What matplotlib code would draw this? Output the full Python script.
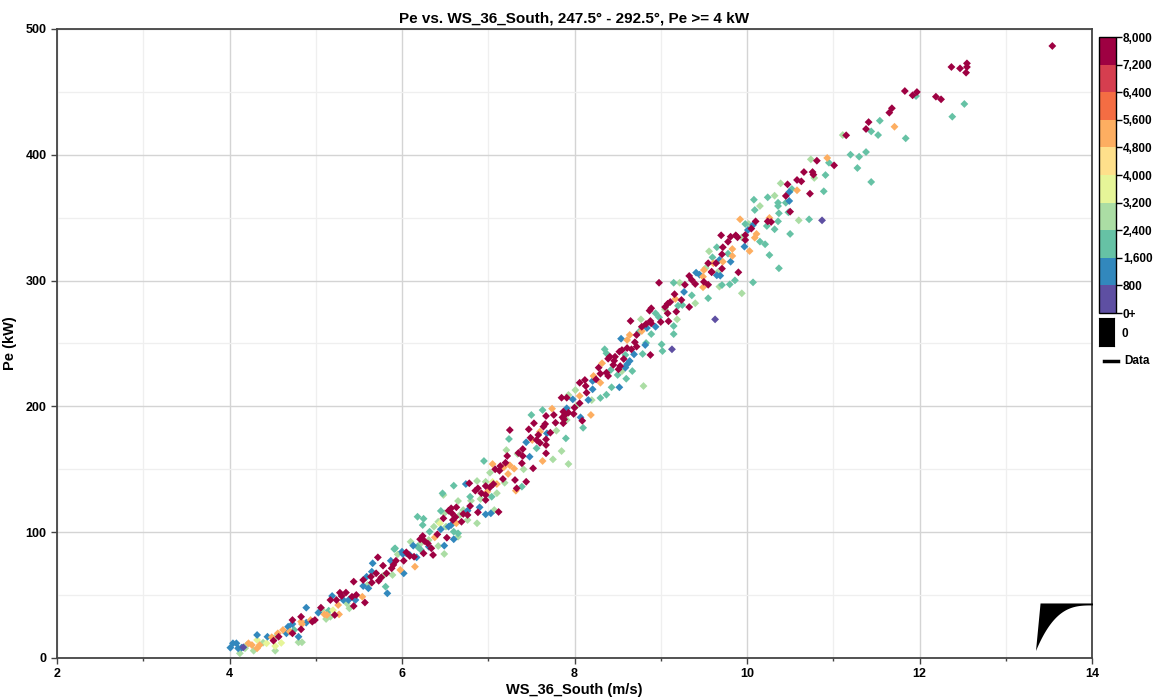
import matplotlib
matplotlib.use("Agg")
import matplotlib.pyplot as plt
import numpy as np
from matplotlib.colors import ListedColormap, BoundaryNorm
from matplotlib.cm import ScalarMappable
from matplotlib.lines import Line2D
from matplotlib.ticker import MultipleLocator

plt.rcParams['font.family'] = ['Liberation Sans', 'DejaVu Sans']
plt.rcParams['font.weight'] = 'bold'

# points, grouped by colour bin (WS m/s, Pe kW)
pts_7600 = [(13.54, 486.5), (12.37, 469.8), (12.47, 468.7), (12.55, 472.7), (12.55, 469.8), (12.54, 465.3),
            (11.83, 450.7), (11.92, 447.3), (11.97, 449.9), (12.19, 446.2), (12.25, 444.1), (11.68, 437),
            (11.65, 433.5), (11.41, 426), (11.38, 420.5), (11.15, 415.5), (10.81, 395.3), (11.01, 391.6),
            (10.66, 386.3), (10.76, 386.3), (10.77, 384.2), (10.58, 380), (10.63, 378.9), (10.47, 376.5),
            (10.73, 369.1), (10.45, 367.3), (10.50, 354.8), (10.10, 347.1), (10.24, 347.1), (10.28, 346.6),
            (10.05, 341.3), (9.98, 336.2), (9.87, 336), (9.89, 334.4), (9.70, 336), (9.81, 334.9), (9.98, 332.3),
            (9.78, 330.9), (9.72, 326.5), (9.71, 320.9), (9.55, 313.8), (9.71, 309.5), (9.59, 306.6), (9.90, 306.6),
            (9.55, 296.7), (8.98, 298.3), (9.28, 296.7), (9.33, 303.7), (9.36, 300.5), (9.40, 297.3), (9.59, 307.1),
            (9.64, 313.8), (9.16, 289.2), (9.08, 281.6), (9.11, 283), (9.24, 284.6), (9.33, 279), (9.18, 275.3),
            (9.00, 267.1), (9.08, 274), (9.09, 267.7), (8.89, 278), (8.87, 276.1), (8.88, 267.9), (8.83, 265.5),
            (8.89, 266), (8.65, 267.9), (8.78, 263.3), (8.72, 256.8), (8.72, 247.5), (8.66, 245.4), (8.61, 246.4),
            (8.55, 244.8), (8.52, 243.5), (8.88, 240.9), (8.47, 239.5), (8.41, 239.5), (8.39, 237.9), (8.57, 237.7),
            (8.46, 236.3), (8.53, 232.1), (8.51, 229.5), (8.28, 230.8), (8.37, 226.8), (8.39, 224.2), (8.25, 221.5),
            (8.12, 221), (8.06, 218.8), (8.13, 216.2), (8.14, 210.9), (7.85, 206.9), (7.91, 206.9), (8.06, 202.5),
            (7.87, 195.8), (7.93, 195), (7.99, 194), (7.89, 193.2), (7.88, 189.7), (8.09, 188.6), (7.87, 186.6),
            (7.76, 193.2), (7.86, 191.3), (7.67, 192.4), (7.53, 186.6), (7.64, 183.9), (7.66, 186), (7.47, 181.8),
            (7.58, 177.3), (7.72, 179.1), (7.56, 173.3), (7.67, 173.8), (7.49, 175.1), (7.25, 181.2), (7.67, 169.3),
            (7.40, 166.1), (7.67, 162.7), (7.22, 160.6), (7.40, 160.6), (7.20, 155.2), (7.14, 152.6), (7.39, 154.8),
            (7.52, 150.8), (7.08, 150), (7.13, 148.9), (7.17, 142.3), (7.31, 141.5), (7.44, 140.1), (7.33, 134.9),
            (7.06, 138.3), (6.97, 136.7), (7.02, 135.7), (6.78, 138.9), (6.88, 134.9), (6.85, 133), (6.97, 129.6),
            (6.97, 125.6), (6.79, 120.8), (6.88, 115.8), (7.12, 116.1), (6.57, 119), (6.63, 119.8), (6.54, 117.1),
            (6.58, 115), (6.71, 114.5), (6.76, 113.7), (6.48, 111), (6.59, 109.7), (6.69, 108.3), (6.41, 98.3),
            (6.52, 95.6), (6.24, 97), (6.21, 94.4), (6.26, 93), (6.34, 87.2), (6.25, 83.2), (6.36, 81.9),
            (6.05, 84), (6.09, 81.1), (6.14, 80.5), (5.93, 77.3), (6.02, 77.3), (5.88, 71.3), (5.72, 80),
            (5.78, 73.4), (5.82, 67.3), (5.70, 67.3), (5.64, 64.6), (5.55, 62), (5.76, 64.1), (5.73, 61.4),
            (5.65, 59.9), (5.44, 60.7), (5.47, 50.1), (5.42, 48.7), (5.57, 44.1), (5.28, 51.9), (5.30, 49.3),
            (5.17, 46.1), (5.24, 46.1), (5.44, 41.3), (5.22, 34.2), (5.06, 40), (4.99, 30.2), (4.96, 28.9),
            (4.83, 32.8), (4.73, 30.2), (4.83, 22.8), (4.73, 19.6), (4.57, 16.9), (4.51, 13.8),
            (8.30, 226), (8.45, 233), (7.78, 187), (7.35, 163), (6.92, 131), (6.62, 112), (8.70, 251),
            (9.05, 279), (9.50, 299), (6.30, 91), (5.90, 74), (5.35, 52), (7.60, 171), (8.00, 199)]

pts_1200 = [(10.49, 370.4), (10.49, 363.3), (10.07, 344.2), (10.01, 340.2), (9.97, 327), (9.68, 316.4), (9.81, 315),
            (9.69, 303.9), (9.41, 306.3), (9.45, 304.7), (9.65, 304.2), (9.27, 291), (8.84, 262.3), (8.94, 263.3),
            (8.54, 253.8), (8.82, 248.8), (8.69, 241.4), (8.64, 236.1), (8.61, 233.5), (8.59, 230.8), (8.21, 220.2),
            (8.21, 213.6), (8.52, 215.2), (7.98, 205.6), (8.16, 205.1), (7.91, 198.5), (8.07, 191.3), (7.68, 178.6),
            (7.44, 171.5), (7.48, 160), (6.74, 138.3), (6.90, 119.8), (6.76, 117.1), (6.97, 114.2), (7.03, 115),
            (6.57, 105.7), (6.45, 102.3), (6.54, 104.4), (6.60, 94.4), (6.49, 89.3), (6.31, 88.5), (6.13, 89.3),
            (6.17, 80), (6.05, 83.2), (6.09, 81.9), (6.00, 84.5), (6.01, 82.7), (5.87, 77.3), (6.02, 67.3),
            (5.66, 75.3), (5.65, 68.6), (5.59, 64.6), (5.55, 57.2), (5.61, 55.4), (5.83, 51.4), (5.46, 46.1),
            (5.38, 46.1), (5.32, 46.1), (5.19, 49.3), (5.03, 36), (4.89, 40), (4.89, 28.1), (4.73, 27),
            (4.68, 24.9), (4.66, 19.6), (4.44, 16.9), (4.32, 18.3), (4.80, 16.9), (4.10, 7.7), (4.14, 8.2),
            (4.01, 8.2), (4.04, 11.7), (4.08, 11.7)]

pts_2000 = [(11.96, 446.7), (12.52, 440.4), (12.38, 430.3), (11.54, 427.1), (11.44, 418.6), (11.52, 415.7),
            (11.84, 413.1), (11.20, 400.1), (11.30, 398.5), (11.38, 402.2), (11.28, 389.5), (11.44, 378.4),
            (10.95, 393.7), (10.91, 383.9), (10.52, 372.8), (10.89, 371), (10.45, 361.9), (10.08, 364.3),
            (10.24, 366.2), (10.36, 361.9), (10.36, 359.3), (10.09, 356.1), (10.37, 353.5), (10.48, 354.3),
            (9.98, 345), (10.36, 347.1), (10.72, 348.7), (10.23, 343.4), (10.32, 340.8), (10.50, 337.1),
            (10.21, 328.9), (9.65, 326.5), (9.78, 321.4), (10.26, 320.3), (9.60, 318.5), (10.37, 309.8),
            (9.86, 300.2), (9.71, 296.5), (9.80, 297), (10.07, 298.6), (9.15, 298.3), (9.25, 280.6), (9.20, 280),
            (9.36, 288.3), (8.98, 270.8), (9.15, 263.9), (9.15, 257.5), (9.01, 249.3), (9.02, 244), (8.94, 274),
            (8.75, 259.4), (8.89, 257.5), (8.83, 250.4), (8.35, 245.4), (8.37, 242.2), (8.79, 241.7), (8.59, 240.9),
            (8.67, 228.1), (8.42, 228.9), (8.50, 225), (8.43, 215.2), (8.37, 209.3), (8.30, 206.7), (7.50, 193.2),
            (7.63, 197.1), (7.24, 174.1), (7.90, 174.6), (7.56, 166.7), (6.95, 156.6), (7.39, 136.2), (7.04, 128.2),
            (6.60, 137), (6.79, 128.2), (6.47, 130.9), (6.45, 116.9), (6.18, 112.3), (6.25, 110.7), (6.24, 105.7),
            (6.32, 100.4), (6.60, 100.4), (6.65, 99.1), (6.22, 85.9), (6.18, 88.5), (5.92, 87.2), (5.91, 86.6),
            (5.81, 56.7), (5.15, 37.6), (4.75, 22.3), (8.10, 183), (8.60, 222), (9.55, 286), (10.15, 331)]

pts_2800 = [(11.11, 415.7), (10.74, 396.4), (10.78, 381.6), (10.39, 377.3), (10.32, 367.5), (10.15, 359.3),
            (10.02, 345), (10.60, 347.9), (9.94, 334.4), (9.56, 323.3), (9.52, 310), (9.66, 306.6), (9.68, 295.2),
            (9.94, 289.9), (9.22, 298.3), (9.40, 282), (9.05, 277.2), (9.19, 269.2), (8.77, 269.2), (8.80, 216.2),
            (8.01, 213), (7.93, 209.1), (8.02, 200.3), (7.91, 189.2), (7.79, 180.7), (7.85, 164.5), (7.21, 165.3),
            (7.34, 162.2), (7.75, 157.9), (7.41, 150), (7.93, 154.2), (7.02, 147.3), (7.19, 139.3), (6.97, 140.1),
            (6.87, 140.7), (6.48, 129.6), (6.65, 124.8), (6.91, 126.4), (7.07, 117.6), (6.67, 113.7), (6.71, 117.6),
            (6.49, 115), (6.76, 109.7), (6.87, 107.1), (6.42, 108.3), (6.37, 104.4), (6.51, 104.4), (6.65, 96.4),
            (6.42, 89), (6.49, 82.7), (6.31, 93.8), (6.10, 92.4), (6.21, 90.6), (5.95, 82.4), (5.89, 66),
            (5.78, 65.2), (5.36, 43.5), (5.39, 39.5), (5.17, 32.8), (5.12, 31), (5.07, 38.7), (4.53, 16.5),
            (4.39, 12.2), (4.53, 5.8), (4.84, 12.5), (4.80, 12.5), (4.28, 5.8), (4.18, 7.7), (4.12, 3.7), (4.20, 10.3),
            (7.10, 131), (6.80, 125), (8.20, 205), (8.55, 228), (5.60, 58)]

pts_3600 = [(4.43, 11.7), (4.53, 9.5), (4.32, 14.3), (6.44, 107), (4.60, 12), (5.20, 38), (7.05, 140)]

pts_5200 = [(11.71, 422.3), (10.93, 397.5), (10.58, 371.8), (9.92, 348.7), (10.26, 349.8), (10.11, 337.1),
            (10.09, 334.1), (9.83, 325.1), (10.03, 323.5), (9.83, 319.6), (9.72, 315), (9.61, 313.8), (9.49, 303.1),
            (9.49, 294.7), (9.50, 308.4), (9.17, 285.4), (8.78, 259.9), (8.64, 256.8), (8.61, 252.8), (8.32, 234.3),
            (8.22, 224.2), (8.30, 218.8), (8.06, 208.3), (8.19, 193.2), (7.74, 198.2), (7.60, 179.9), (7.51, 173.3),
            (7.63, 156.6), (7.05, 154.2), (7.18, 151.6), (7.25, 153.2), (7.30, 150.5), (7.23, 146.3), (7.10, 138.3),
            (7.32, 133), (6.99, 132.2), (6.63, 107.1), (6.38, 95.9), (6.15, 72.6), (5.98, 70), (5.54, 48.7),
            (5.26, 42.1), (5.27, 34.7), (5.13, 34.2), (5.10, 34.7), (4.94, 30.2), (4.83, 28.9), (4.84, 27),
            (4.70, 20.9), (4.62, 22.3), (4.56, 19.6), (4.49, 16.5), (4.35, 10.3), (4.32, 7.7), (4.26, 10.3),
            (4.22, 11.7)]

pts_400 = [(10.87, 347.9), (9.63, 269.2), (9.13, 245.4), (4.16, 8.5)]

groups = [pts_2800, pts_2000, pts_3600, pts_1200, pts_5200, pts_7600, pts_400]
group_vals = [2800, 2000, 3600, 1200, 5200, 7600, 400]

bin_colors = ['#5e4fa2', '#3288bd', '#66c2a5', '#abdda4', '#e6f598',
              '#fee08b', '#fdae61', '#f46d43', '#d53e4f', '#9e0142']
bin_edges = np.arange(0, 8001, 800)
cbar_labels = ['0+', '800', '1,600', '2,400', '3,200', '4,000', '4,800', '5,600', '6,400', '7,200', '8,000']

cmap = ListedColormap(bin_colors)
norm = BoundaryNorm(bin_edges, cmap.N)

W, H = 1158, 699
fig = plt.figure(figsize=(W / 100, H / 100), dpi=100)
ax = fig.add_axes([57 / W, 1 - 658 / H, (1092 - 57) / W, (658 - 29) / H])

for pts, v in zip(groups, group_vals):
    arr = np.array(pts)
    ax.scatter(arr[:, 0], arr[:, 1], c=[v] * len(arr), cmap=cmap, norm=norm,
               marker='D', s=16, linewidths=0, zorder=3)

ax.set_xlim(2, 14)
ax.set_ylim(0, 500)
ax.xaxis.set_major_locator(MultipleLocator(2))
ax.xaxis.set_minor_locator(MultipleLocator(1))
ax.yaxis.set_major_locator(MultipleLocator(100))
ax.yaxis.set_minor_locator(MultipleLocator(50))
ax.grid(which='major', color='#d4d4d4', lw=1.0, zorder=0)
ax.grid(which='minor', color='#efefef', lw=0.9, zorder=0)
ax.set_axisbelow(True)
for s in ax.spines.values():
    s.set_color('#444444')
    s.set_linewidth(1.3)
ax.tick_params(which='major', length=4, width=1, color='#444444', labelsize=9)
ax.tick_params(which='minor', length=2, width=1, color='#444444')
ax.tick_params(axis='y', which='minor', length=0)

ax.set_title('Pe vs. WS_36_South, 247.5° - 292.5°, Pe >= 4 kW', fontsize=11, fontweight='bold', pad=5)
ax.set_xlabel('WS_36_South (m/s)', fontsize=10.5, fontweight='bold', labelpad=2)
ax.set_ylabel('Pe (kW)', fontsize=10.5, fontweight='bold', labelpad=6)

# colour bar
cax = fig.add_axes([1099 / W, 1 - 313 / H, 17 / W, (313 - 37) / H])
cb = fig.colorbar(ScalarMappable(norm=norm, cmap=cmap), cax=cax, ticks=bin_edges)
cb.ax.set_yticklabels(cbar_labels)
cb.ax.tick_params(labelsize=8.5, length=4, width=1, pad=1)
cb.outline.set_linewidth(1)

# zero box
zax = fig.add_axes([1099 / W, 1 - 346 / H, 15 / W, 28 / H])
zax.set_facecolor('black')
zax.set_xticks([])
zax.set_yticks([])
fig.text(1121 / W, 1 - 334 / H, '0', fontsize=8.5, fontweight='bold', va='center')

# legend entry
fig.add_artist(Line2D([1104 / W, 1118 / W], [1 - 361 / H, 1 - 361 / H], color='black', lw=2.5))
fig.text(1124 / W, 1 - 361 / H, 'Data', fontsize=8.5, fontweight='bold', va='center')

# sector icon in the corner
iax = fig.add_axes([1036 / W, 1 - 651 / H, 57 / W, 49 / H])
iax.set_xlim(0, 1)
iax.set_ylim(0, 1)
iax.axis('off')
t = np.linspace(1, 0, 40)
curve_y = 0.93 - 0.93 * (1 - t) ** 3
poly_x = np.concatenate([[0.08, 1.0], t])
poly_y = np.concatenate([[0.97, 0.97], curve_y])
iax.fill(poly_x, poly_y, color='black', lw=0)

fig.savefig('out.png', dpi=100)
